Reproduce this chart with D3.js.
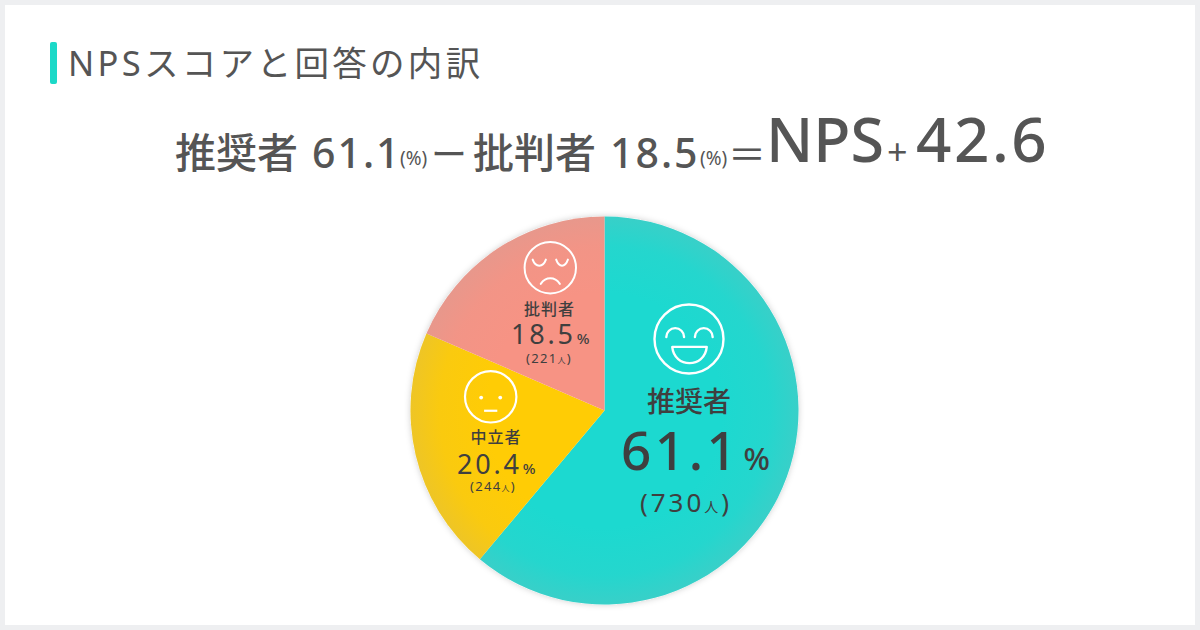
<!DOCTYPE html>
<html lang="ja"><head><meta charset="utf-8">
<script src="https://cdn.jsdelivr.net/npm/d3@7"></script>
<style>html,body{margin:0;padding:0;background:#eeeff1}svg{display:block}
text{font-family:"Noto Sans","Noto Sans CJK JP",sans-serif;fill:#555}</style></head><body>
<svg id="c" width="1200" height="630"></svg>
<script>
const titleText = "NPSスコアと回答の内訳";
const categories = ["推奨者", "中立者", "批判者"];
const shares = [61.1, 20.4, 18.5];
const counts = [730, 244, 221];
const colors = ["#1cd9d0", "#ffcc05", "#f79384"];
const npsScore = "42.6";

const svg = d3.select("#c");
const defs = svg.append("defs");
const cx = 604.5, cy = 410.5, R = 194;

svg.append("rect").attr("x",5).attr("y",5).attr("width",1190).attr("height",620).attr("fill","#fff");
svg.append("rect").attr("x",50).attr("y",42).attr("width",7).attr("height",42).attr("rx",2).attr("fill","#1cd9c8");

function put(x,y,str,size,opt={}){
  return svg.append("text").attr("x",x).attr("y",y).attr("font-size",size)
    .attr("font-weight",opt.w||400).attr("letter-spacing",opt.ls||0)
    .attr("text-anchor",opt.a||"start").style("fill",opt.c||"#555").text(str);
}
put(68,76,titleText,34.5,{ls:3.3});

// formula line
put(175,168,categories[0],41,{w:500});
put(312,168,shares[0].toFixed(1),41,{w:500,ls:2});
put(400,165,"(%)",19);
put(431,168,"ー",36,{w:400});
put(473,168,categories[2],41,{w:500});
put(610,168,shares[2].toFixed(1),41,{w:500,ls:2});
put(700,165,"(%)",19);
put(728,168,"＝",38,{w:400});
put(766,162,"NPS",61,{w:500});
put(887,165,"+",36);
put(916,162,npsScore,62,{w:500,ls:2.5});

// pie
const glow = defs.append("filter").attr("id","sh").attr("x","-10%").attr("y","-10%").attr("width","120%").attr("height","120%");
glow.append("feDropShadow").attr("dx",0).attr("dy",0).attr("stdDeviation",3).attr("flood-color","#000").attr("flood-opacity",.2);
const rg = defs.append("radialGradient").attr("id","edge").attr("gradientUnits","userSpaceOnUse")
  .attr("cx",0).attr("cy",0).attr("r",R);
[[0.6,0],[0.85,.06],[1,.2]].forEach(([o,a])=>rg.append("stop").attr("offset",o).attr("stop-color","#aaa").attr("stop-opacity",a));

const pie = d3.pie().sort(null).value(d=>d);
const arc = d3.arc().innerRadius(0).outerRadius(R);
const g = svg.append("g").attr("transform",`translate(${cx},${cy})`);
g.append("circle").attr("r",R).attr("fill","#fff").attr("filter","url(#sh)");
const arcs = pie(shares);
g.selectAll("path.s").data(arcs).join("path").attr("class","s").attr("d",arc).attr("fill",(d,i)=>colors[i]);
g.append("circle").attr("r",R).attr("fill","url(#edge)");

// faces: drawn in a local 70-unit box and scaled, stroke kept constant
function face(x,y,r,sw,kind){
  const u = r/35;
  const f = svg.append("g").attr("transform",`translate(${x},${y}) scale(${u})`).attr("fill","none").attr("stroke","#fff")
    .attr("stroke-width",sw/u).attr("stroke-linecap","round");
  f.append("circle").attr("r",35);
  if(kind==="happy"){
    f.append("path").attr("d","M-23 -2A9 9 0 0 1 -5 -2M6 -2A9 9 0 0 1 24 -2");
    f.append("path").attr("d","M-17 8H18C16 30 -15 30 -17 8Z").attr("stroke-linejoin","round");
  } else if(kind==="sad"){
    f.append("path").attr("d","M-24 -11C-20 0 -10 0 -6 -11M8 -11C12 0 20 0 24 -11");
    f.append("path").attr("d","M-13 22C-6 12 6 12 13 22");
  } else {
    f.append("circle").attr("cx",-13).attr("cy",1).attr("r",2.6).attr("fill","#fff").attr("stroke","none");
    f.append("circle").attr("cx",13).attr("cy",1).attr("r",2.6).attr("fill","#fff").attr("stroke","none");
    f.append("path").attr("d","M-9 19H9").attr("stroke-linecap","butt");
  }
}
face(689,339,34.5,2.4,"happy");
face(490.7,396.8,25.7,2.2,"neutral");
face(550.3,267.7,25.7,2,"sad");

// slice labels
const ink = "#3f3f3f";
function label(i,x,yName,sName,lsName,wPct,yPct,sPct,lsPct,pctX,gap,sPctSign,xCnt,yCnt,sCnt,lsCnt,sPerson){
  put(x,yName,categories[i],sName,{w:500,a:"middle",c:ink,ls:lsName});
  const num = put(pctX,yPct,shares[i].toFixed(1),sPct,{w:wPct,ls:lsPct,c:ink});
  const end = num.node().getComputedTextLength()+pctX;
  put(end+gap,yPct,"%",sPctSign,{w:500,c:ink});
  const t = svg.append("text").attr("x",xCnt).attr("y",yCnt).attr("text-anchor","middle")
    .attr("font-size",sCnt).style("fill",ink).attr("letter-spacing",lsCnt);
  t.append("tspan").text("("+counts[i]);
  t.append("tspan").attr("font-size",sPerson).text("人");
  t.append("tspan").text(")");
}
label(0,689,412,28,0,500,470,53,3.5,621,3,31,686,512,26,3,14);
label(1,496,443,16,1,400,474,27,2.8,457,1,15,493,491,13,1.3,8);
label(2,549.5,315,16,1,400,344,27,2.8,511,1,15,549,363,13,1.3,8);
</script></body></html>
